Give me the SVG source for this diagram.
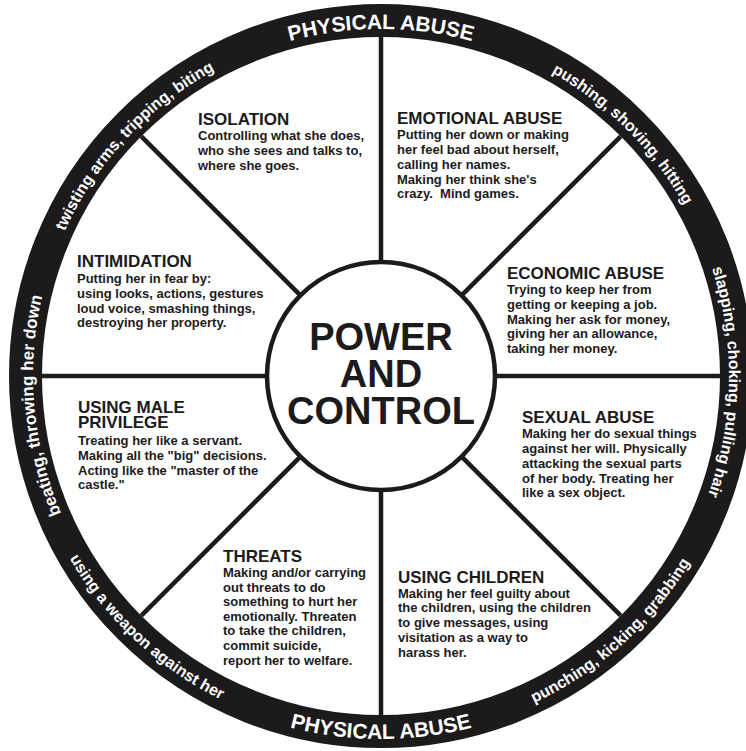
<svg xmlns="http://www.w3.org/2000/svg" xmlns:xlink="http://www.w3.org/1999/xlink" width="746" height="751" viewBox="0 0 746 751">
  <style>
    .ring-band { fill: none; stroke: #1c1a1b; stroke-width: 33; }
    .spoke { stroke: #1c1a1b; stroke-width: 4.5; fill: none; }
    .hub { fill: #ffffff; stroke: #1c1a1b; stroke-width: 4.5; }
    .title { font-family: "Liberation Sans", Arial, sans-serif; font-weight: bold; font-size: 38px; fill: #1c1a1b; text-anchor: middle; }
    .head { font-family: "Liberation Sans", Arial, sans-serif; font-weight: bold; font-size: 17px; fill: #1c1a1b; }
    .body { font-family: "Liberation Sans", Arial, sans-serif; font-weight: bold; font-size: 13px; fill: #1c1a1b; }
    .rim-cap { font-family: "Liberation Sans", Arial, sans-serif; font-weight: bold; font-size: 21px; fill: #ffffff; }
    .rim { font-family: "Liberation Sans", Arial, sans-serif; font-weight: bold; font-size: 16px; fill: #ffffff; }
  </style>
  <defs>
    <!-- arcs for the rim labels; clockwise arcs put letter tops outward, anticlockwise arcs put them inward -->
    <path id="arc-top" d="M39.27,315.74 A347,347 0 0 1 722.73,315.74"/>
    <path id="arc-ne" d="M181.4,90.94 A348,348 0 0 1 666.06,575.6"/>
    <path id="arc-e" d="M447.4,34.4 A348,348 0 0 1 435.44,719.72"/>
    <path id="arc-w" d="M350.67,722.67 A348,348 0 0 1 290.93,39.86"/>
    <path id="arc-nw" d="M103.07,585.43 A348,348 0 0 1 570.53,84.14"/>
    <path id="arc-bottom" d="M23.51,439.03 A363,363 0 0 0 738.49,439.03"/>
    <path id="arc-se" d="M158.75,660.47 A361,361 0 0 0 687.15,184.7"/>
    <path id="arc-sw" d="M78.24,179.38 A361,361 0 0 0 598.26,664.31"/>
  </defs>

  <rect width="746" height="751" fill="#ffffff"/>

  <!-- outer black rim -->
  <g id="rim">
    <circle class="ring-band" cx="381" cy="376" r="355.5"/>
    <text class="rim-cap"><textPath xlink:href="#arc-top" href="#arc-top" startOffset="50%" text-anchor="middle">PHYSICAL ABUSE</textPath></text>
    <text class="rim"><textPath xlink:href="#arc-ne" href="#arc-ne" startOffset="50%" text-anchor="middle">pushing, shoving, hitting</textPath></text>
    <text class="rim"><textPath xlink:href="#arc-e" href="#arc-e" startOffset="50%" text-anchor="middle">slapping, choking, pulling hair</textPath></text>
    <text class="rim"><textPath xlink:href="#arc-se" href="#arc-se" startOffset="50%" text-anchor="middle">punching, kicking, grabbing</textPath></text>
    <text class="rim-cap"><textPath xlink:href="#arc-bottom" href="#arc-bottom" startOffset="50%" text-anchor="middle">PHYSICAL ABUSE</textPath></text>
    <text class="rim"><textPath xlink:href="#arc-sw" href="#arc-sw" startOffset="50%" text-anchor="middle">using a weapon against her</textPath></text>
    <text class="rim" style="font-size:17px"><textPath xlink:href="#arc-w" href="#arc-w" startOffset="50%" text-anchor="middle">beating, throwing her down</textPath></text>
    <text class="rim"><textPath xlink:href="#arc-nw" href="#arc-nw" startOffset="50%" text-anchor="middle">twisting arms, tripping, biting</textPath></text>
  </g>

  <!-- spokes between hub and rim -->
  <g id="spokes">
    <line class="spoke" x1="381" y1="37" x2="381" y2="262"/>
    <line class="spoke" x1="381" y1="490" x2="381" y2="715"/>
    <line class="spoke" x1="42" y1="376" x2="267" y2="376"/>
    <line class="spoke" x1="495" y1="376" x2="720" y2="376"/>
    <line class="spoke" x1="141.3" y1="136.3" x2="300.4" y2="295.4"/>
    <line class="spoke" x1="620.7" y1="136.3" x2="461.6" y2="295.4"/>
    <line class="spoke" x1="141.3" y1="615.7" x2="300.4" y2="456.6"/>
    <line class="spoke" x1="620.7" y1="615.7" x2="461.6" y2="456.6"/>
  </g>

  <g id="hub">
    <circle class="hub" cx="381" cy="376" r="114"/>
    <text class="title" x="381" y="350">POWER</text>
    <text class="title" x="381" y="387">AND</text>
    <text class="title" x="381" y="424">CONTROL</text>
  </g>

  <g id="isolation">
    <text class="head" x="198" y="125">ISOLATION</text>
    <text class="body">
      <tspan x="198" y="140">Controlling what she does,</tspan>
      <tspan x="198" y="155">who she sees and talks to,</tspan>
      <tspan x="198" y="170">where she goes.</tspan>
    </text>
  </g>

  <g id="emotional-abuse">
    <text class="head" x="397" y="124">EMOTIONAL ABUSE</text>
    <text class="body">
      <tspan x="397" y="139">Putting her down or making</tspan>
      <tspan x="397" y="154">her feel bad about herself,</tspan>
      <tspan x="397" y="168.5">calling her names.</tspan>
      <tspan x="397" y="183.5">Making her think she's</tspan>
      <tspan x="397" y="198">crazy.&#160; Mind games.</tspan>
    </text>
  </g>

  <g id="intimidation">
    <text class="head" x="77" y="267">INTIMIDATION</text>
    <text class="body">
      <tspan x="77" y="282.5">Putting her in fear by:</tspan>
      <tspan x="77" y="297.5">using looks, actions, gestures</tspan>
      <tspan x="77" y="312.5">loud voice, smashing things,</tspan>
      <tspan x="77" y="327">destroying her property.</tspan>
    </text>
  </g>

  <g id="economic-abuse">
    <text class="head" x="507" y="279">ECONOMIC ABUSE</text>
    <text class="body">
      <tspan x="507" y="294">Trying to keep her from</tspan>
      <tspan x="507" y="309">getting or keeping a job.</tspan>
      <tspan x="507" y="323.5">Making her ask for money,</tspan>
      <tspan x="507" y="338">giving her an allowance,</tspan>
      <tspan x="507" y="353">taking her money.</tspan>
    </text>
  </g>

  <g id="male-privilege">
    <text class="head">
      <tspan x="78" y="413">USING MALE</tspan>
      <tspan x="78" y="427.5">PRIVILEGE</tspan>
    </text>
    <text class="body">
      <tspan x="78" y="445">Treating her like a servant.</tspan>
      <tspan x="78" y="460">Making all the "big" decisions.</tspan>
      <tspan x="78" y="474.5">Acting like the "master of the</tspan>
      <tspan x="78" y="489">castle."</tspan>
    </text>
  </g>

  <g id="sexual-abuse">
    <text class="head" x="522" y="423">SEXUAL ABUSE</text>
    <text class="body">
      <tspan x="522" y="438">Making her do sexual things</tspan>
      <tspan x="522" y="453">against her will. Physically</tspan>
      <tspan x="522" y="468">attacking the sexual parts</tspan>
      <tspan x="522" y="483">of her body. Treating her</tspan>
      <tspan x="522" y="497">like a sex object.</tspan>
    </text>
  </g>

  <g id="threats">
    <text class="head" x="223" y="562">THREATS</text>
    <text class="body">
      <tspan x="223" y="577">Making and/or carrying</tspan>
      <tspan x="223" y="591.5">out threats to do</tspan>
      <tspan x="223" y="606">something to hurt her</tspan>
      <tspan x="223" y="620.5">emotionally. Threaten</tspan>
      <tspan x="223" y="635">to take the children,</tspan>
      <tspan x="223" y="650">commit suicide,</tspan>
      <tspan x="223" y="664.5">report her to welfare.</tspan>
    </text>
  </g>

  <g id="using-children">
    <text class="head" x="398" y="583">USING CHILDREN</text>
    <text class="body">
      <tspan x="398" y="597.5">Making her feel guilty about</tspan>
      <tspan x="398" y="612">the children, using the children</tspan>
      <tspan x="398" y="627">to give messages, using</tspan>
      <tspan x="398" y="642">visitation as a way to</tspan>
      <tspan x="398" y="657">harass her.</tspan>
    </text>
  </g>
</svg>
